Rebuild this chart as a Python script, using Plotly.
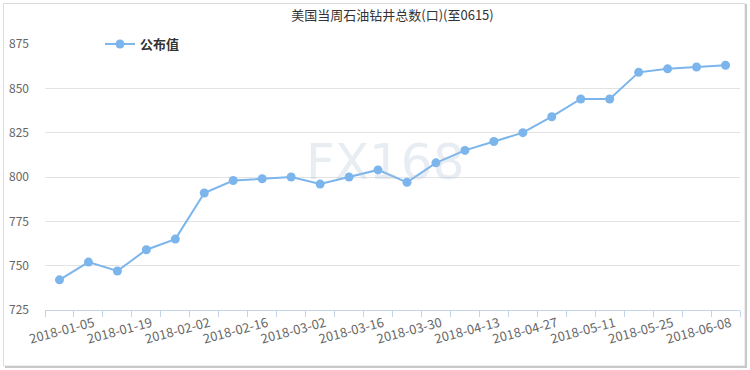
import plotly.graph_objects as go

dates = ["2018-01-05", "2018-01-12", "2018-01-19", "2018-01-26", "2018-02-02", "2018-02-09",
         "2018-02-16", "2018-02-23", "2018-03-02", "2018-03-09", "2018-03-16", "2018-03-23",
         "2018-03-30", "2018-04-06", "2018-04-13", "2018-04-20", "2018-04-27", "2018-05-04",
         "2018-05-11", "2018-05-18", "2018-05-25", "2018-06-01", "2018-06-08", "2018-06-15"]
values = [742, 752, 747, 759, 765, 791, 798, 799, 800, 796, 800, 804,
          797, 808, 815, 820, 825, 834, 844, 844, 859, 861, 862, 863]
series_name = "公布值"
title_text = "美国当周石油钻井总数(口)(至0615)"
y_ticks = [725, 750, 775, 800, 825, 850, 875]

FONT = "Noto Sans CJK SC, Microsoft YaHei, sans-serif"
BLUE = "#7cb5ec"

fig = go.Figure()
fig.add_trace(go.Scatter(
    x=dates, y=values, name=series_name, mode="lines+markers",
    line=dict(color=BLUE, width=2),
    marker=dict(color=BLUE, size=9),
))

ticktext = [d if i % 2 == 0 else "" for i, d in enumerate(dates)]

fig.update_layout(
    width=750, height=370,
    margin=dict(l=45, r=10, t=44, b=60),
    paper_bgcolor="white", plot_bgcolor="white",
    font=dict(family=FONT, size=12, color="#666"),
    title=dict(text=title_text, x=0.5, xref="paper", xanchor="center",
               y=1 - 15 / 370, yanchor="middle",
               font=dict(family=FONT, size=13, color="#333")),
    showlegend=True,
    legend=dict(x=(100 - 45) / 695, y=1.0, xanchor="left", yanchor="middle",
                orientation="h", bgcolor="white", itemwidth=30,
                font=dict(family=FONT, size=13, color="#333", weight=600)),
    xaxis=dict(
        type="category", tickmode="array", tickvals=dates, ticktext=ticktext,
        tickson="boundaries", ticks="outside", ticklen=6, tickcolor="#c3d3ea",
        showline=True, linecolor="#c3d3ea", linewidth=1,
        showgrid=False, tickangle=-15, ticklabelshift=34,
        tickfont=dict(family=FONT, size=13, color="#666"),
        range=[-0.5, len(dates) - 0.5],
    ),
    yaxis=dict(
        range=[y_ticks[0], y_ticks[-1]], tickvals=y_ticks,
        showgrid=True, gridcolor="#e3e3e3", gridwidth=1,
        showline=False, zeroline=False, ticks="",
        ticklabelstandoff=15,
        tickfont=dict(family=FONT, size=12, color="#666"),
    ),
)

# watermark (semi-transparent so the series shows through)
fig.add_annotation(text="FX168", x=(385 - 45) / 695, y=(310 - 131) / 266,
                   xref="paper", yref="paper", showarrow=False,
                   font=dict(family="DejaVu Sans, sans-serif", size=50,
                             color="rgba(170,192,210,0.28)"))

# outer frame + shadow
px = lambda v: (v - 45) / 695
py = lambda v: (310 - v) / 266
fig.add_shape(type="rect", xref="paper", yref="paper",
              x0=px(3.5), x1=px(745), y0=py(366), y1=py(3.5),
              line=dict(color="#dcdcdc", width=1), layer="below")
fig.add_shape(type="line", xref="paper", yref="paper",
              x0=px(746), x1=px(746), y0=py(367), y1=py(4),
              line=dict(color="#c8c8c8", width=2))
fig.add_shape(type="line", xref="paper", yref="paper",
              x0=px(5), x1=px(747), y0=py(367), y1=py(367),
              line=dict(color="#c8c8c8", width=2))

fig.write_html("out.html", config={"displayModeBar": False},
               post_script="document.body.style.margin='0';")
